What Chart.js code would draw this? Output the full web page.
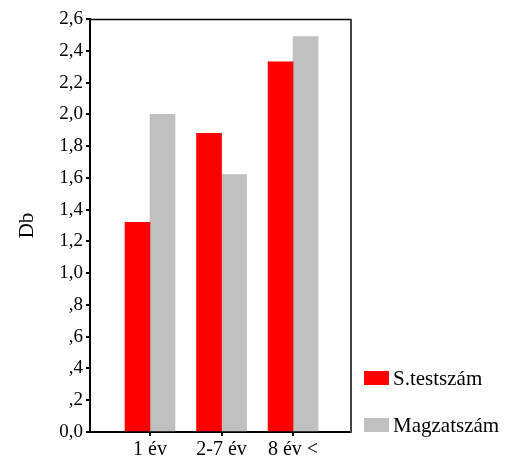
<!DOCTYPE html>
<html>
<head>
<meta charset="utf-8">
<script src="https://cdn.jsdelivr.net/npm/chart.js@4"></script>
<style>
html,body{margin:0;padding:0;background:#fff;}
#wrap{width:508px;height:456px;}
</style>
</head>
<body>
<div id="wrap"><canvas id="c" width="508" height="456"></canvas></div>
<script>
const categories = ['1 év', '2-7 év', '8 év <'];
const seriesNames = ['S.testszám', 'Magzatszám'];
const testszam = [1.32, 1.88, 2.33];
const magzatszam = [2.0, 1.62, 2.49];
const yTicks = [0, 0.2, 0.4, 0.6, 0.8, 1.0, 1.2, 1.4, 1.6, 1.8, 2.0, 2.2, 2.4, 2.6];
const seriesColors = ['#ff0000', '#c0c0c0'];

const serif = '"Liberation Serif", "Times New Roman", serif';

const framePlugin = {
  id: 'frame',
  afterDraw(chart) {
    const a = chart.chartArea, ctx = chart.ctx;
    ctx.save();
    ctx.strokeStyle = '#000';
    ctx.lineWidth = 1.5;
    ctx.beginPath();
    ctx.moveTo(a.left, a.top + 0.5);
    ctx.lineTo(a.right, a.top + 0.5);
    ctx.stroke();
    ctx.strokeStyle = '#444';
    ctx.lineWidth = 2;
    ctx.beginPath();
    ctx.moveTo(a.right, a.top);
    ctx.lineTo(a.right, a.bottom + 1);
    ctx.stroke();
    ctx.restore();
  }
};

// Legend drawn to the right of the plot, bottom-aligned with the plot area
const sideLegend = {
  id: 'sideLegend',
  afterDraw(chart) {
    const a = chart.chartArea, ctx = chart.ctx;
    const ds = chart.data.datasets;
    const n = ds.length, boxW = 25, boxH = 14, gap = 47;
    ctx.save();
    ctx.font = '21px ' + serif;
    ctx.textBaseline = 'middle';
    ctx.textAlign = 'left';
    ds.forEach((d, i) => {
      const top = a.bottom - boxH - (n - 1 - i) * gap;
      const x = a.right + 13;
      ctx.fillStyle = d.backgroundColor;
      ctx.fillRect(x, top, boxW, boxH);
      ctx.fillStyle = '#000';
      ctx.fillText(d.label, x + boxW + 4, top + boxH / 2 + 1);
    });
    ctx.restore();
  }
};

function fmt(v) {
  let s = Number(v).toFixed(1).replace('.', ',');
  if (Math.abs(v) > 1e-9 && s.startsWith('0,')) s = s.slice(1);
  return s;
}

new Chart(document.getElementById('c'), {
  type: 'bar',
  data: {
    datasets: [
      { label: seriesNames[0], data: categories.map((c, i) => ({x: i, y: testszam[i]})), backgroundColor: seriesColors[0], borderWidth: 0, barThickness: 25 },
      { label: seriesNames[1], data: categories.map((c, i) => ({x: i, y: magzatszam[i]})), backgroundColor: seriesColors[1], borderWidth: 0, barThickness: 25 }
    ]
  },
  options: {
    responsive: false,
    animation: false,
    layout: { padding: { left: 0, right: 157, top: 19, bottom: 0 } },
    plugins: {
      tooltip: { enabled: false },
      legend: { display: false }
    },
    scales: {
      x: {
        type: 'linear',
        min: -0.839,
        max: 2.81,
        offset: false,
        afterFit: (s) => { s.height = 24; },
        grid: { display: true, offset: false, drawOnChartArea: false, drawTicks: true, tickLength: 4, color: '#000', lineWidth: 2 },
        border: { display: true, color: '#000', width: 2 },
        ticks: {
          stepSize: 1,
          includeBounds: false,
          autoSkip: false,
          maxRotation: 0,
          color: '#000',
          font: { family: serif, size: 20, lineHeight: 1 },
          padding: 4,
          callback: (v) => Number.isInteger(v) && categories[v] !== undefined ? categories[v] : ''
        }
      },
      y: {
        min: 0,
        max: 2.6,
        afterFit: (s) => { s.width = 90; },
        afterBuildTicks: (s) => { s.ticks = yTicks.map(v => ({value: v})); },
        grid: { display: true, drawOnChartArea: false, drawTicks: true, tickLength: 4, color: '#000', lineWidth: 2 },
        border: { display: true, color: '#000', width: 2 },
        ticks: {
          color: '#000',
          font: { family: serif, size: 19 },
          padding: 3,
          callback: (v) => fmt(v)
        },
        title: {
          display: true,
          text: 'Db',
          color: '#000',
          font: { family: serif, size: 21 },
          padding: { top: 15, bottom: 0 }
        }
      }
    }
  },
  plugins: [framePlugin, sideLegend]
});
</script>
</body>
</html>
